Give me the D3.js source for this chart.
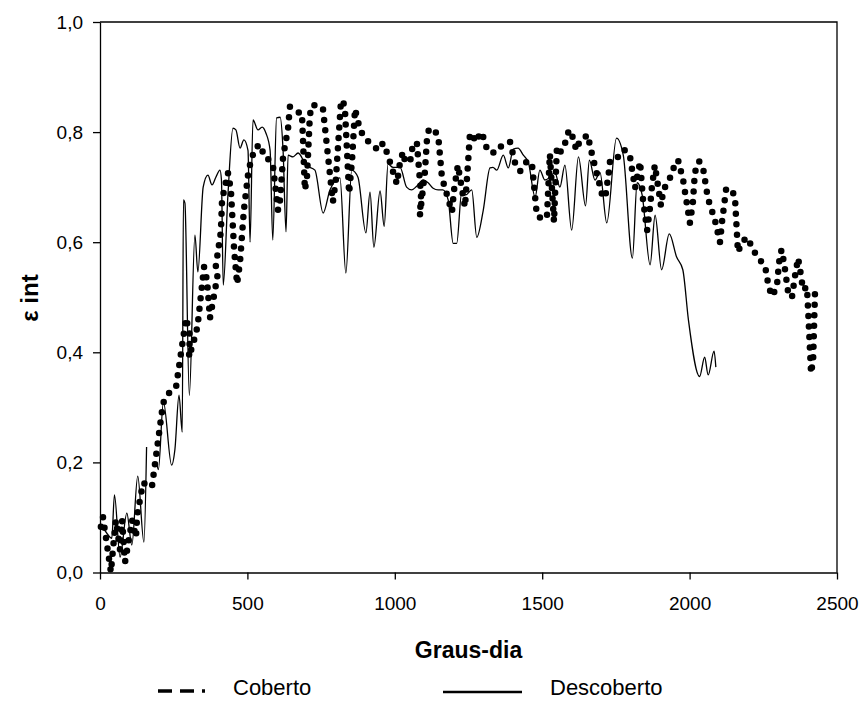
<!DOCTYPE html>
<html>
<head>
<meta charset="utf-8">
<script src="https://cdn.jsdelivr.net/npm/d3@7/dist/d3.min.js"></script>
<style>
  html, body { margin: 0; padding: 0; background: #fff; }
  svg { display: block; font-family: "Liberation Sans", Arial, sans-serif; }
</style>
</head>
<body>
<svg id="chart" width="862" height="702"></svg>
<script>
// Interception efficiency (ε int) against accumulated degree-days, two treatments.

// Coberto (covered) series
const grausCoberto = [3, 10, 37, 47, 54, 68, 75, 85, 109, 122, 126, 146, 176, 214, 234, 258, 292, 305, 302, 326,
  332, 353, 363, 373, 393, 400, 393, 410, 414, 434, 444, 455, 465, 475, 488, 502, 512, 529, 546, 556,
  577, 587, 604, 611, 621, 638, 644, 672, 685, 695, 702, 712, 719, 729, 756, 790, 800, 817, 824, 831,
  845, 855, 865, 882, 902, 926, 943, 960, 974, 1007, 1018, 1028, 1035, 1052, 1062, 1075, 1089, 1085, 1102, 1109,
  1116, 1126, 1147, 1160, 1194, 1201, 1214, 1238, 1248, 1255, 1279, 1289, 1306, 1313, 1340, 1367, 1391, 1408, 1425, 1448,
  1465, 1482, 1503, 1516, 1526, 1540, 1550, 1560, 1570, 1581, 1591, 1608, 1615, 1628, 1655, 1662, 1706, 1716, 1727, 1730,
  1750, 1771, 1784, 1798, 1815, 1832, 1842, 1856, 1866, 1872, 1882, 1893, 1903, 1910, 1923, 1940, 1950, 1961, 1978, 2001,
  2011, 2018, 2032, 2045, 2062, 2086, 2103, 2110, 2124, 2144, 2154, 2164, 2178, 2195, 2212, 2229, 2249, 2262, 2266, 2280,
  2296, 2300, 2307, 2313, 2324, 2334, 2347, 2357, 2368, 2374, 2385, 2398, 2402, 2412, 2419, 2426];
const epsCoberto = [0.083, 0.101, 0.001, 0.059, 0.095, 0.041, 0.095, 0.019, 0.095, 0.064, 0.104, 0.163, 0.155, 0.308, 0.326, 0.337, 0.462, 0.431, 0.391, 0.435,
  0.453, 0.555, 0.531, 0.462, 0.522, 0.531, 0.557, 0.619, 0.677, 0.726, 0.695, 0.586, 0.524, 0.564, 0.658, 0.722, 0.749, 0.773, 0.777, 0.755,
  0.749, 0.737, 0.658, 0.677, 0.755, 0.807, 0.846, 0.836, 0.835, 0.695, 0.717, 0.831, 0.849, 0.849, 0.844, 0.673, 0.713, 0.853, 0.858, 0.840,
  0.689, 0.749, 0.842, 0.804, 0.786, 0.777, 0.767, 0.780, 0.762, 0.706, 0.746, 0.764, 0.746, 0.746, 0.780, 0.780, 0.686, 0.648, 0.727, 0.786,
  0.806, 0.806, 0.795, 0.717, 0.655, 0.695, 0.740, 0.664, 0.740, 0.798, 0.782, 0.800, 0.786, 0.766, 0.762, 0.778, 0.782, 0.744, 0.729, 0.747,
  0.744, 0.648, 0.642, 0.645, 0.760, 0.637, 0.773, 0.764, 0.767, 0.786, 0.804, 0.786, 0.767, 0.784, 0.795, 0.775, 0.680, 0.689, 0.731, 0.747,
  0.749, 0.767, 0.767, 0.755, 0.698, 0.746, 0.677, 0.622, 0.664, 0.700, 0.740, 0.702, 0.666, 0.691, 0.709, 0.722, 0.744, 0.749, 0.713, 0.635,
  0.671, 0.727, 0.747, 0.737, 0.680, 0.640, 0.600, 0.637, 0.697, 0.695, 0.680, 0.582, 0.600, 0.609, 0.591, 0.573, 0.562, 0.544, 0.522, 0.502,
  0.519, 0.544, 0.580, 0.586, 0.549, 0.510, 0.499, 0.537, 0.571, 0.553, 0.513, 0.519, 0.477, 0.362, 0.386, 0.522];

// Descoberto (uncovered) series; null marks a break in the record
const grausDescoberto = [6, 25, 40, 49, 68, 91, 108, 128, 149, 158, null, 192, 198, 215, 243, 254, 268, 279, 283, 288, 303, 322,
  332, 350, 366, 380, 393, 407, 412, 418, 434, 451, 461, 475, 488, 502, 509, 519, 536, 550, 563, 577,
  586, 599, 611, 621, 631, 638, 655, 672, 699, 729, 757, 780, 814, 834, 854, 875, 902, 916, 929, 950,
  964, 977, 994, 1018, 1040, 1057, 1075, 1096, 1113, 1130, 1147, 1163, 1181, 1198, 1210, 1227, 1241, 1261, 1278, 1300,
  1323, 1333, 1346, 1368, 1385, 1402, 1418, 1436, 1453, 1476, 1492, 1509, 1526, 1543, 1560, 1577, 1600, 1623, 1647, 1660,
  1679, 1696, 1719, 1752, 1775, 1806, 1822, 1839, 1866, 1883, 1905, 1931, 1956, 1977, 1996, 2034, 2051, 2063, 2083, 2089];
const epsDescoberto = [0.085, 0.070, 0.062, 0.141, 0.028, 0.108, 0.050, 0.175, 0.055, 0.228, null, 0.201, 0.187, 0.310, 0.195, 0.223, 0.322, 0.255, 0.677, 0.671, 0.322, 0.613,
  0.546, 0.700, 0.722, 0.704, 0.718, 0.731, 0.713, 0.522, 0.686, 0.807, 0.804, 0.771, 0.786, 0.767, 0.600, 0.822, 0.804, 0.809, 0.798, 0.767,
  0.604, 0.826, 0.827, 0.767, 0.619, 0.758, 0.755, 0.762, 0.740, 0.731, 0.653, 0.695, 0.717, 0.544, 0.731, 0.718, 0.617, 0.691, 0.591, 0.693,
  0.629, 0.742, 0.736, 0.736, 0.700, 0.695, 0.702, 0.713, 0.708, 0.698, 0.695, 0.695, 0.677, 0.598, 0.598, 0.691, 0.686, 0.695, 0.609, 0.658,
  0.735, 0.736, 0.731, 0.758, 0.735, 0.769, 0.771, 0.758, 0.745, 0.682, 0.731, 0.713, 0.718, 0.727, 0.700, 0.740, 0.622, 0.755, 0.666, 0.749,
  0.713, 0.727, 0.635, 0.789, 0.758, 0.571, 0.708, 0.686, 0.559, 0.649, 0.550, 0.615, 0.573, 0.550, 0.459, 0.356, 0.391, 0.359, 0.402, 0.373];

const xTicks = [0, 500, 1000, 1500, 2000, 2500];
const yTicks = [0, 0.2, 0.4, 0.6, 0.8, 1.0];
const legendLabels = ["Coberto", "Descoberto"];

const svg = d3.select("#chart");
const plot = { left: 100, right: 837, top: 22, bottom: 572.5 };

const x = d3.scaleLinear().domain([0, 2500]).range([plot.left, plot.right]);
const y = d3.scaleLinear().domain([0, 1]).range([plot.bottom, plot.top]);

const comma = v => d3.format(".1f")(v).replace(".", ",");

// frame (top and right edges)
svg.append("path")
  .attr("d", `M${plot.left},${plot.top}H${plot.right}V${plot.bottom}`)
  .attr("fill", "none").attr("stroke", "#000").attr("stroke-width", 1.3);

// axes
const xAxis = svg.append("g")
  .attr("transform", `translate(0,${plot.bottom})`)
  .call(d3.axisBottom(x).tickValues(xTicks).tickFormat(d3.format("d")).tickSize(7).tickSizeOuter(0).tickPadding(17));
const yAxis = svg.append("g")
  .attr("transform", `translate(${plot.left},0)`)
  .call(d3.axisLeft(y).tickValues(yTicks).tickFormat(comma).tickSize(7).tickSizeOuter(0).tickPadding(10));

[xAxis, yAxis].forEach(g => {
  g.select(".domain").attr("stroke", "#000").attr("stroke-width", 1.3);
  g.selectAll(".tick line").attr("stroke", "#000").attr("stroke-width", 1.3);
  g.selectAll(".tick text").attr("fill", "#000").style("font-size", "19px")
    .style("font-family", "'Liberation Sans', Arial, sans-serif");
});

// Descoberto: thin smooth solid line
const descData = grausDescoberto.map((g, i) => [g, epsDescoberto[i]]);
svg.append("path")
  .datum(descData)
  .attr("fill", "none")
  .attr("stroke", "#000")
  .attr("stroke-width", 1.3)
  .attr("stroke-linejoin", "round")
  .attr("d", d3.line()
    .defined(d => d[0] != null && d[1] != null)
    .x(d => x(d[0])).y(d => y(d[1]))
    .curve(d3.curveMonotoneX));

// Coberto: heavy dotted line
const cobData = grausCoberto.map((g, i) => [g, epsCoberto[i]]);
svg.append("path")
  .datum(cobData)
  .attr("fill", "none")
  .attr("stroke", "#000")
  .attr("stroke-width", 6.5)
  .attr("stroke-linecap", "round")
  .attr("stroke-dasharray", "0 10.5")
  .attr("d", d3.line().x(d => x(d[0])).y(d => y(d[1])));

// axis titles
svg.append("text")
  .attr("x", (plot.left + plot.right) / 2).attr("y", 658)
  .attr("text-anchor", "middle")
  .style("font-size", "23px").style("font-weight", "bold")
  .text("Graus-dia");

svg.append("text")
  .attr("transform", "translate(38,298) rotate(-90)")
  .attr("text-anchor", "middle")
  .style("font-size", "24px").style("font-weight", "bold")
  .text("ε int");

// legend
const legend = svg.append("g");
legend.append("line")
  .attr("x1", 158).attr("x2", 205).attr("y1", 691).attr("y2", 691)
  .attr("stroke", "#000").attr("stroke-width", 3.5).attr("stroke-dasharray", "14 8");
legend.append("text").attr("x", 233).attr("y", 695)
  .style("font-size", "22px").text(legendLabels[0]);
legend.append("line")
  .attr("x1", 443).attr("x2", 522).attr("y1", 692).attr("y2", 692)
  .attr("stroke", "#000").attr("stroke-width", 2.5);
legend.append("text").attr("x", 550).attr("y", 695)
  .style("font-size", "22px").text(legendLabels[1]);
</script>
</body>
</html>
